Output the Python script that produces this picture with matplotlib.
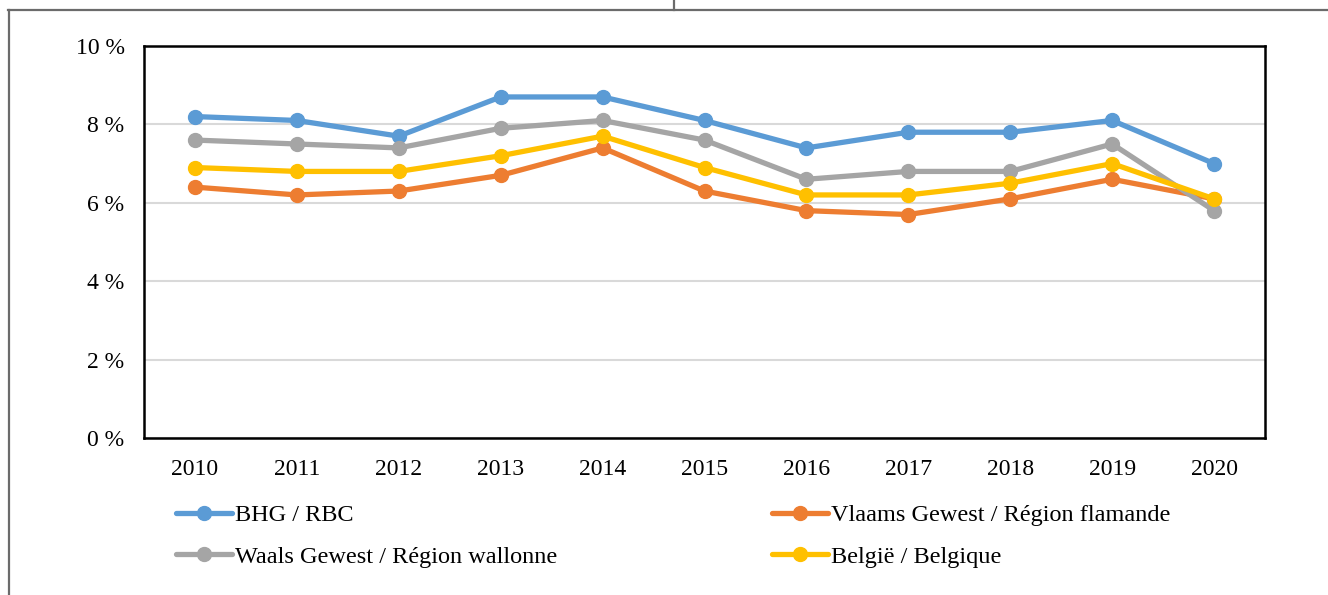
import matplotlib.pyplot as plt
from matplotlib.lines import Line2D

plt.rcParams['font.family'] = ['Liberation Serif', 'DejaVu Serif']

years = ["2010", "2011", "2012", "2013", "2014", "2015", "2016", "2017", "2018", "2019", "2020"]
bhg = [8.2, 8.1, 7.7, 8.7, 8.7, 8.1, 7.4, 7.8, 7.8, 8.1, 7.0]
vlaams = [6.4, 6.2, 6.3, 6.7, 7.4, 6.3, 5.8, 5.7, 6.1, 6.6, 6.1]
waals = [7.6, 7.5, 7.4, 7.9, 8.1, 7.6, 6.6, 6.8, 6.8, 7.5, 5.8]
belgie = [6.9, 6.8, 6.8, 7.2, 7.7, 6.9, 6.2, 6.2, 6.5, 7.0, 6.1]
y_ticks = [0, 2, 4, 6, 8, 10]

names = ["BHG / RBC", "Vlaams Gewest / Région flamande",
         "Waals Gewest / Région wallonne", "België / Belgique"]
colors = ["#5B9BD5", "#ED7D31", "#A5A5A5", "#FFC000"]
series = [bhg, vlaams, waals, belgie]

fig = plt.figure(figsize=(13.28, 5.95), dpi=100)
ax = fig.add_axes([0.1084, 0.2639, 0.8442, 0.6588])

x = list(range(len(years)))
lines = {}
for name, vals, c in zip(names, series, colors):
    lines[name], = ax.plot(x, vals, color=c, linewidth=3.8, marker="o",
                           markersize=10, solid_capstyle="round", label=name)

ax.set_xlim(-0.5, len(years) - 0.5)
ax.set_ylim(0, 10)
ax.set_xticks(x)
ax.set_xticklabels(years, fontsize=17)
ax.set_yticks(y_ticks)
ax.set_yticklabels([f"{t} %" for t in y_ticks], fontsize=17)
ax.tick_params(length=0)
ax.tick_params(axis="x", pad=15)
ax.tick_params(axis="y", pad=14)
ax.yaxis.grid(True, color="#D9D9D9", linewidth=1.5)
ax.set_axisbelow(True)
for s in ax.spines.values():
    s.set_linewidth(1.8)
    s.set_color("black")

# legend: row 1 BHG, Vlaams; row 2 Waals, Belgie (column-wise fill)
order = [names[0], names[2], names[1], names[3]]
fig.legend([lines[n] for n in order], order, ncol=2, loc="upper left",
           bbox_to_anchor=(0.1252, 0.169), frameon=False, fontsize=17.5,
           handlelength=2.3, handletextpad=0.12, columnspacing=8.85,
           labelspacing=0.8, borderaxespad=0)

# outer frame pieces
fc = "#6B6B6B"
fig.add_artist(Line2D([8 / 1328, 1.0], [0.984, 0.984], color=fc, linewidth=1.6))
fig.add_artist(Line2D([9 / 1328, 9 / 1328], [0.0, 0.984], color=fc, linewidth=1.6))
fig.add_artist(Line2D([674 / 1328, 674 / 1328], [0.984, 1.0], color=fc, linewidth=1.6))

fig.savefig("out.png", dpi=100)
